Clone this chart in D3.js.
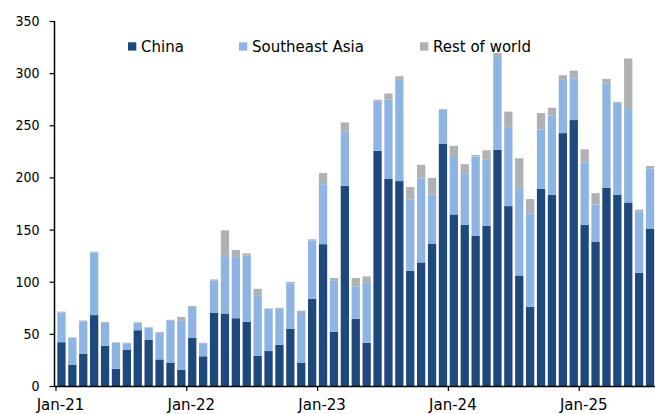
<!DOCTYPE html>
<html>
<head>
<meta charset="utf-8">
<script src="https://cdn.jsdelivr.net/npm/d3@7"></script>
<style>
  html, body { margin: 0; padding: 0; background: #fff; }
  svg { display: block; font-family: "DejaVu Sans", Verdana, sans-serif; }
</style>
</head>
<body>
<svg id="chart" width="655" height="414"></svg>
<script>
// Monthly data Jan-21 .. Jul-25
const months = [];
const yrs = [21, 22, 23, 24, 25];
const mNames = ["Jan","Feb","Mar","Apr","May","Jun","Jul","Aug","Sep","Oct","Nov","Dec"];
yrs.forEach(yy => mNames.forEach(m => months.push(m + "-" + yy)));
const categories = months.slice(0, 55);

const china = [42, 20.5, 31, 68, 38.5, 16.5, 34.5, 53.5, 44.5, 25.5, 22.5, 15.5,
               46, 28.5, 70, 69.5, 65, 61.5, 29, 33.5, 39.5, 55, 22.5, 83.5,
               136, 52, 192, 64.5, 41.5, 225.5, 198.5, 196.5, 110.5, 118.5, 136.5, 232.5,
               164.5, 154.5, 144, 153.5, 226.5, 172.5, 106, 76, 189, 183.5, 242.5, 255,
               154.5, 138.5, 190, 183.5, 176, 108.5, 151];
const seAsia = [28.5, 25.5, 31, 60, 22, 25, 6.5, 7, 11.5, 25.5, 40.5, 47,
                30, 12.5, 31, 55, 58.5, 63.5, 57.5, 40.5, 35, 43.5, 47.5, 56,
                57.5, 49, 52, 31, 57.5, 47, 76, 97, 68.5, 80.5, 47, 32.5,
                55, 49.5, 76, 63.5, 89, 75, 84, 89.5, 57, 76, 51, 40,
                60, 35.5, 100, 88, 89.5, 59, 57.5];
const restOfWorld = [0.8, 0.6, 0.8, 0.8, 0.8, 0.5, 0.5, 0.6, 0.5, 0.8, 0.5, 3.8,
                     0.8, 0.5, 1.2, 24.8, 7, 2.2, 6.7, 0.5, 0.5, 1.3, 2.2, 1.2,
                     10.8, 2.6, 8.8, 8, 6.1, 2, 6, 3.5, 11.8, 13.1, 16, 0.6,
                     10.8, 8.7, 1.6, 9, 3.8, 15.6, 28.4, 13.7, 15.7, 7.4, 4.5, 7.4,
                     12.4, 10.9, 4.5, 0.9, 48.6, 1.6, 2.5];

const seriesKeys = ["China", "Southeast Asia", "Rest of world"];
const seriesColors = ["#1f497d", "#8db4e2", "#afb2b5"];
const yTicks = [0, 50, 100, 150, 200, 250, 300, 350];
const xTickIdx = [0, 12, 24, 36, 48];
const xTickLabels = ["Jan-21", "Jan-22", "Jan-23", "Jan-24", "Jan-25"];

(function () {
const svg = d3.select("#chart");
const pLeft = 56, pRight = 655.5, pTop = 21, pBottom = 386;

const rows = categories.map((c, i) => ({
  cat: c, "China": china[i], "Southeast Asia": seAsia[i], "Rest of world": restOfWorld[i]
}));
const stacked = d3.stack().keys(seriesKeys)(rows);

const x = d3.scaleBand().domain(categories).range([pLeft, pRight])
  .paddingInner(0.24).paddingOuter(0.12);
const y = d3.scaleLinear().domain([0, 350]).range([pBottom, pTop]);

// bars
svg.append("g").selectAll("g").data(stacked).join("g")
  .attr("fill", (d, i) => seriesColors[i])
  .selectAll("rect").data(d => d).join("rect")
  .attr("x", d => x(d.data.cat))
  .attr("width", x.bandwidth())
  .attr("y", d => y(d[1]))
  .attr("height", d => Math.max(0, y(d[0]) - y(d[1])));

// y axis
const yAxis = d3.axisLeft(y).tickValues(yTicks).tickSize(5).tickPadding(10);
const gy = svg.append("g").attr("transform", `translate(${pLeft - 1.5},0)`).call(yAxis);
gy.select(".domain").attr("stroke", "#000").attr("stroke-width", 1.5)
  .attr("d", `M0,${pBottom}V${pTop}`);
gy.selectAll(".tick line").attr("stroke", "#000").attr("stroke-width", 1.2);
gy.selectAll(".tick text").attr("font-size", 14).attr("fill", "#000")
  .attr("font-family", "DejaVu Sans Condensed, DejaVu Sans, sans-serif");

// x axis
const step = x.step();
const xPos = i => x(categories[i]) - step * x.paddingInner() / 2;
const gx = svg.append("g");
gx.append("line").attr("x1", pLeft - 1.5).attr("x2", pRight).attr("y1", pBottom + 0.5).attr("y2", pBottom + 0.5)
  .attr("stroke", "#000").attr("stroke-width", 1.5);
gx.selectAll(".xt").data(xTickIdx).join("line").attr("class", "xt")
  .attr("x1", i => xPos(i)).attr("x2", i => xPos(i))
  .attr("y1", pBottom).attr("y2", pBottom + 5)
  .attr("stroke", "#000").attr("stroke-width", 1.2);
gx.selectAll(".xl").data(xTickIdx).join("text").attr("class", "xl")
  .attr("x", i => xPos(i) + 4.5).attr("y", pBottom + 24)
  .attr("text-anchor", "middle").attr("font-size", 15).attr("fill", "#000")
  .text((i, k) => xTickLabels[k]);

// legend
const legendX = [128, 239, 420];
const lg = svg.append("g");
seriesKeys.forEach((k, i) => {
  lg.append("rect").attr("x", legendX[i]).attr("y", 42.3).attr("width", 8.3).attr("height", 8.3)
    .attr("fill", seriesColors[i]);
  lg.append("text").attr("x", legendX[i] + 13).attr("y", 52)
    .attr("font-size", 15).attr("fill", "#000").text(k);
});
})();
</script>
</body>
</html>
